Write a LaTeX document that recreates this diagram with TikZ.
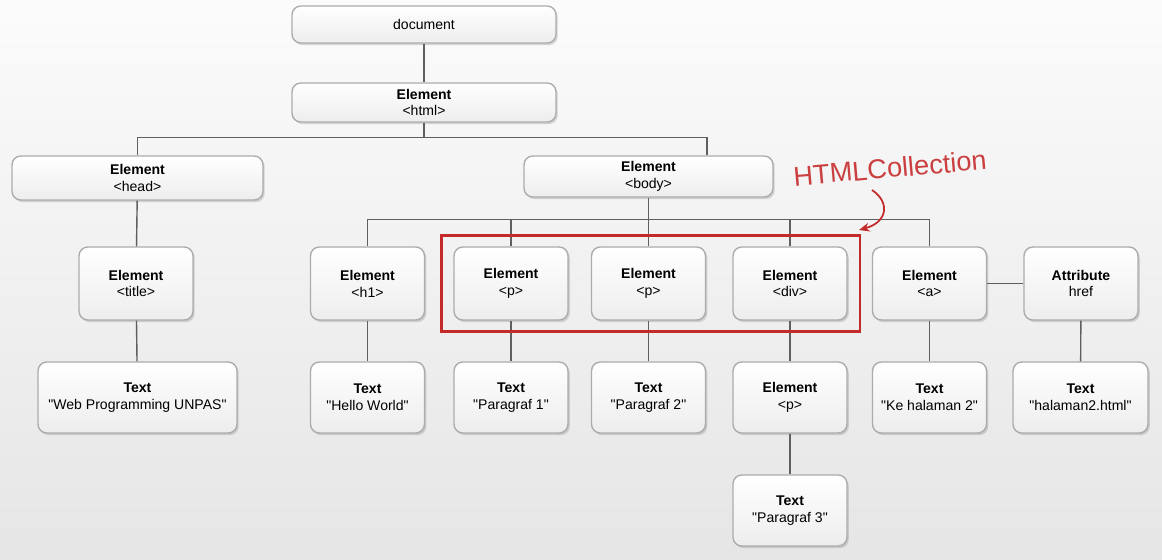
\documentclass[tikz,border=0pt]{standalone}
\usepackage{fontspec}
\setmainfont{Liberation Sans}
\usetikzlibrary{shadows,fit,arrows.meta}
\definecolor{hcred}{RGB}{196,42,42}
\definecolor{linegray}{RGB}{95,95,95}
\newcommand{\qt}[1]{\textquotedbl#1\textquotedbl}
\tikzset{
  elbox/.style={draw=gray!65, line width=0.8pt, rounded corners=5pt,
    top color=white, bottom color=gray!14,
    drop shadow={shadow xshift=1pt, shadow yshift=-1.2pt, opacity=0.3},
    align=center, inner sep=0pt, font=\fontsize{8}{9.6}\selectfont},
  rowbox/.style={elbox, minimum width=2.28cm, minimum height=1.46cm},
  txtbox/.style={elbox, minimum width=2.28cm, minimum height=1.42cm},
  conn/.style={draw=linegray, line width=0.8pt},
}
\begin{document}
\begin{tikzpicture}[x=0.02cm, y=-0.02cm]
% background
\fill[top color=gray!3, bottom color=gray!20] (0,0) rectangle (1162,559);
\useasboundingbox (0,0) rectangle (1162,559);

% top of the tree
\node[elbox, minimum width=5.28cm, minimum height=0.74cm] (doc) at (424,24.5) {document};
\node[elbox, minimum width=5.28cm, minimum height=0.78cm] (html) at (424,102.5) {\textbf{Element}\\<html>};
\node[elbox, minimum width=5.02cm, minimum height=0.88cm] (head) at (137.5,178) {\textbf{Element}\\<head>};
\node[elbox, minimum width=4.98cm, minimum height=0.82cm] (body) at (648.5,176.5) {\textbf{Element}\\<body>};

% second row
\node[rowbox] (title) at (136,283.5) {\textbf{Element}\\<title>};
\node[rowbox] (h1) at (367.5,283.5) {\textbf{Element}\\<h1>};
\node[rowbox] (p1) at (511,283.5) {\textbf{Element}\\<p>};
\node[rowbox] (p2) at (648.5,283.5) {\textbf{Element}\\<p>};
\node[rowbox] (div) at (790,283.5) {\textbf{Element}\\<div>};
\node[rowbox] (a) at (929.5,283.5) {\textbf{Element}\\<a>};
\node[rowbox] (href) at (1081,283.5) {\textbf{Attribute}\\href};

% third row
\node[txtbox, minimum width=3.98cm] (webtxt) at (137.5,397.5) {\textbf{Text}\\\qt{Web Programming UNPAS}};
\node[txtbox] (hello) at (367.5,397.5) {\textbf{Text}\\\qt{Hello World}};
\node[txtbox] (par1) at (511,397.5) {\textbf{Text}\\\qt{Paragraf 1}};
\node[txtbox] (par2) at (648.5,397.5) {\textbf{Text}\\\qt{Paragraf 2}};
\node[txtbox] (divp) at (790,397.5) {\textbf{Element}\\<p>};
\node[txtbox] (ketxt) at (929.5,397.5) {\textbf{Text}\\\qt{Ke halaman 2}};
\node[txtbox, minimum width=2.70cm] (hreftxt) at (1080.5,397.5) {\textbf{Text}\\\qt{halaman2.html}};
\node[txtbox] (par3) at (790,510.5) {\textbf{Text}\\\qt{Paragraf 3}};

% connectors
\draw[conn] (doc) -- (html);
\draw[conn] (html.south) -- ++(0,15) coordinate (hbus) -| (head.north);
\draw[conn] (hbus) -| ([xshift=1.17cm]body.north);
\draw[conn] (head) -- (title);
\draw[conn] (title) -- (webtxt);
\draw[conn] (body.south) -- ++(0,22) coordinate (bbus);
\foreach \n in {h1,p1,p2,div,a}
  \draw[conn] (bbus) -| (\n.north);
\draw[conn] (h1) -- (hello);
\draw[conn] (p1) -- (par1);
\draw[conn] (p2) -- (par2);
\draw[conn] (div) -- (divp);
\draw[conn] (divp) -- (par3);
\draw[conn] (a) -- (ketxt);
\draw[conn] (a) -- (href);
\draw[conn] (href) -- (hreftxt);

% HTMLCollection mark
\node[draw=hcred, line width=1.7pt, inner xsep=7pt, inner ysep=6pt, fit=(p1)(div)] (htmlcoll) {};
\node[text=hcred!90, rotate=5, font=\fontsize{15.5}{18}\selectfont] (hclabel) at (890,168) {HTMLCollection};
\coordinate (arrstart) at (872,190);
\coordinate (arrtip) at (859,230);
\draw[hcred, line width=1pt, -{Stealth[length=6pt,width=5pt]}] (arrstart) .. controls (890,202) and (888,222) .. (arrtip);
\end{tikzpicture}
\end{document}
